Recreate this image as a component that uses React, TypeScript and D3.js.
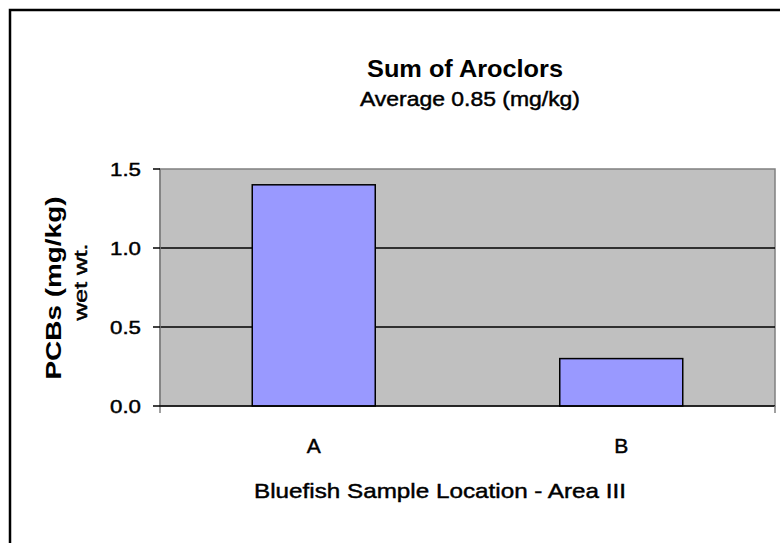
import * as d3 from 'd3';

// Data
const categories = ['A', 'B'];
const values = [1.4, 0.3];
const yTicks = [0, 0.5, 1.0, 1.5];

const WIDTH = 780;
const HEIGHT = 543;
const FONT = '"Liberation Sans", Arial, sans-serif';
const BAR_FILL = '#9999FF';
const PLOT_BG = '#C0C0C0';

export default function App() {
  const margin = { top: 169, right: 5, bottom: 137, left: 160 };
  const innerW = WIDTH - margin.left - margin.right;
  const innerH = HEIGHT - margin.top - margin.bottom;

  const x = d3.scaleBand<string>().domain(categories).range([0, innerW]).paddingInner(0.6).paddingOuter(0.3);
  const band = d3.scaleBand<string>().domain(categories).range([0, innerW]);
  const y = d3.scaleLinear().domain([0, 1.5]).range([innerH, 0]);

  // the original text is heavy and wide; stretch glyphs and thicken a little
  const stretch = { lengthAdjust: 'spacingAndGlyphs' as const };
  const heavy = { stroke: '#000', strokeWidth: 0.45 };

  return (
    <svg width={WIDTH} height={HEIGHT} style={{ position: 'absolute', left: 0, top: 0, background: '#fff' }}>
      {/* outer chart border */}
      <rect x={10} y={10} width={WIDTH + 20} height={HEIGHT + 20} fill="none" stroke="#000" strokeWidth={2.5} />

      <text x={465} y={77} textAnchor="middle" fontFamily={FONT} fontSize={24} fontWeight="bold" textLength={196} {...stretch}>
        Sum of Aroclors
      </text>
      <text x={470} y={106} textAnchor="middle" fontFamily={FONT} fontSize={20} textLength={220} {...stretch} {...heavy}>
        Average 0.85 (mg/kg)
      </text>

      <g transform={`translate(${margin.left},${margin.top})`}>
        <rect x={0} y={0} width={innerW} height={innerH} fill={PLOT_BG} stroke="#808080" strokeWidth={1.5} />

        {yTicks.filter((t) => t > 0 && t < 1.5).map((t) => (
          <line key={t} x1={0} x2={innerW} y1={y(t)} y2={y(t)} stroke="#000" strokeWidth={1.5} />
        ))}

        {categories.map((c, i) => (
          <rect
            key={c}
            x={x(c)}
            y={y(values[i])}
            width={x.bandwidth()}
            height={innerH - y(values[i])}
            fill={BAR_FILL}
            stroke="#000"
            strokeWidth={1.5}
          />
        ))}

        {/* y axis */}
        <line x1={0} x2={0} y1={0} y2={innerH + 7} stroke="#808080" strokeWidth={1.5} />
        {yTicks.map((t) => (
          <g key={t}>
            <line x1={-7} x2={0} y1={y(t)} y2={y(t)} stroke="#000" strokeWidth={1.5} />
            <text x={-19} y={y(t)} dy="0.36em" textAnchor="end" fontFamily={FONT} fontSize={19} textLength={31} {...stretch} {...heavy}>
              {t.toFixed(1)}
            </text>
          </g>
        ))}

        {/* x axis */}
        <line x1={0} x2={innerW} y1={innerH} y2={innerH} stroke="#000" strokeWidth={1.5} />
        <line x1={innerW} x2={innerW} y1={innerH} y2={innerH + 7} stroke="#808080" strokeWidth={1.5} />
        {categories.map((c) => (
          <text key={c} x={band(c)! + band.bandwidth() / 2} y={innerH + 47} textAnchor="middle" fontFamily={FONT} fontSize={21} {...heavy}>
            {c}
          </text>
        ))}
      </g>

      <text x={440} y={498} textAnchor="middle" fontFamily={FONT} fontSize={21} textLength={372} {...stretch} {...heavy}>
        Bluefish Sample Location  - Area III
      </text>

      <g transform="rotate(-90)">
        <text x={-288} y={61} textAnchor="middle" fontFamily={FONT} fontSize={22} fontWeight="bold" textLength={183} {...stretch}>
          PCBs (mg/kg)
        </text>
        <text x={-282} y={87} textAnchor="middle" fontFamily={FONT} fontSize={19} textLength={77} {...stretch} {...heavy}>
          wet wt.
        </text>
      </g>
    </svg>
  );
}
